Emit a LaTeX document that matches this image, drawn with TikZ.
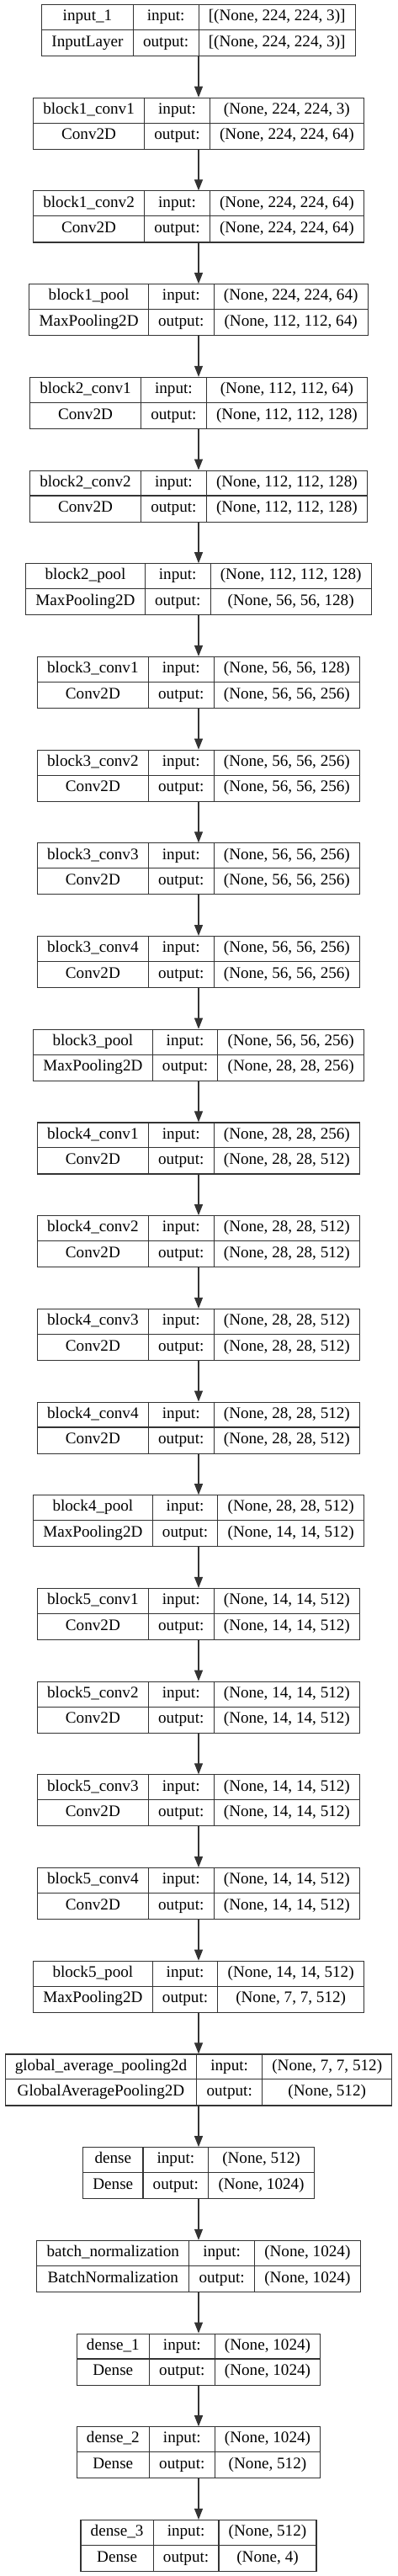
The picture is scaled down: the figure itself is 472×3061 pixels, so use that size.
\documentclass[tikz,border=0pt]{standalone}
\usepackage{fontspec}
\setmainfont{Liberation Serif}
\usetikzlibrary{arrows.meta}
\newlength\colA
\newlength\colB
\newlength\colC
\newlength\tmpw
\newlength\tmpg
\newcommand\kfont{\fontsize{19.15pt}{23pt}\selectfont}
\newcommand\kmeasure[2]{\pgfinterruptpicture\settowidth\tmpw{\kfont #2}\global\tmpg=\tmpw\endpgfinterruptpicture #1=\tmpg}
\tikzset{
  boxline/.style={draw=black!80, line width=1.1pt},
  layerbox/.style={boxline, rectangle, inner sep=0pt, anchor=north, minimum height=61pt},
  celltext/.style={inner sep=0pt, anchor=center, text height=13.2pt, text depth=4.3pt, text=black},
  flow/.style={draw=black!80, line width=1.1pt, -{Triangle[length=13pt,width=10pt]}}
}
\newcommand\klayer[6]{%
  \kmeasure\colA{#3}\kmeasure\tmpw{#4}\ifdim\tmpw>\colA\colA=\tmpw\fi
  \kmeasure\colB{output:}%
  \kmeasure\colC{#5}\kmeasure\tmpw{#6}\ifdim\tmpw>\colC\colC=\tmpw\fi
  \pgfmathsetmacro\wA{\colA+23.5}%
  \pgfmathsetmacro\wB{\colB+23.5}%
  \pgfmathsetmacro\wC{\colC+23.5}%
  \pgfmathsetmacro\T{5+#2*110.7}%
  \pgfmathsetmacro\W{\wA+\wB+\wC}%
  \pgfmathsetmacro\L{236-\W/2}%
  \node[layerbox, minimum width=\W pt] (#1) at (236,\T) {};
  \draw[boxline] (\L,\T+30.5) -- (\L+\W,\T+30.5);
  \draw[boxline] (\L+\wA,\T) -- (\L+\wA,\T+61);
  \draw[boxline] (\L+\wA+\wB,\T) -- (\L+\wA+\wB,\T+61);
  \node[celltext] (#1-n) at (\L+\wA/2,\T+15.25) {#3};
  \node[celltext] (#1-t) at (\L+\wA/2,\T+45.75) {#4};
  \node[celltext] (#1-il) at (\L+\wA+\wB/2,\T+15.25) {input:};
  \node[celltext] (#1-ol) at (\L+\wA+\wB/2,\T+45.75) {output:};
  \node[celltext] (#1-i) at (\L+\wA+\wB+\wC/2,\T+15.25) {#5};
  \node[celltext] (#1-o) at (\L+\wA+\wB+\wC/2,\T+45.75) {#6};
}
\begin{document}
\begin{tikzpicture}[x=1pt,y=-1pt,font=\kfont]
\useasboundingbox (0,0) rectangle (472,3061);
\fill[white] (0,0) rectangle (472,3061);
\klayer{L0}{0}{input\_1}{InputLayer}{[(None, 224, 224, 3)]}{[(None, 224, 224, 3)]}
\klayer{L1}{1}{block1\_conv1}{Conv2D}{(None, 224, 224, 3)}{(None, 224, 224, 64)}
\klayer{L2}{2}{block1\_conv2}{Conv2D}{(None, 224, 224, 64)}{(None, 224, 224, 64)}
\klayer{L3}{3}{block1\_pool}{MaxPooling2D}{(None, 224, 224, 64)}{(None, 112, 112, 64)}
\klayer{L4}{4}{block2\_conv1}{Conv2D}{(None, 112, 112, 64)}{(None, 112, 112, 128)}
\klayer{L5}{5}{block2\_conv2}{Conv2D}{(None, 112, 112, 128)}{(None, 112, 112, 128)}
\klayer{L6}{6}{block2\_pool}{MaxPooling2D}{(None, 112, 112, 128)}{(None, 56, 56, 128)}
\klayer{L7}{7}{block3\_conv1}{Conv2D}{(None, 56, 56, 128)}{(None, 56, 56, 256)}
\klayer{L8}{8}{block3\_conv2}{Conv2D}{(None, 56, 56, 256)}{(None, 56, 56, 256)}
\klayer{L9}{9}{block3\_conv3}{Conv2D}{(None, 56, 56, 256)}{(None, 56, 56, 256)}
\klayer{L10}{10}{block3\_conv4}{Conv2D}{(None, 56, 56, 256)}{(None, 56, 56, 256)}
\klayer{L11}{11}{block3\_pool}{MaxPooling2D}{(None, 56, 56, 256)}{(None, 28, 28, 256)}
\klayer{L12}{12}{block4\_conv1}{Conv2D}{(None, 28, 28, 256)}{(None, 28, 28, 512)}
\klayer{L13}{13}{block4\_conv2}{Conv2D}{(None, 28, 28, 512)}{(None, 28, 28, 512)}
\klayer{L14}{14}{block4\_conv3}{Conv2D}{(None, 28, 28, 512)}{(None, 28, 28, 512)}
\klayer{L15}{15}{block4\_conv4}{Conv2D}{(None, 28, 28, 512)}{(None, 28, 28, 512)}
\klayer{L16}{16}{block4\_pool}{MaxPooling2D}{(None, 28, 28, 512)}{(None, 14, 14, 512)}
\klayer{L17}{17}{block5\_conv1}{Conv2D}{(None, 14, 14, 512)}{(None, 14, 14, 512)}
\klayer{L18}{18}{block5\_conv2}{Conv2D}{(None, 14, 14, 512)}{(None, 14, 14, 512)}
\klayer{L19}{19}{block5\_conv3}{Conv2D}{(None, 14, 14, 512)}{(None, 14, 14, 512)}
\klayer{L20}{20}{block5\_conv4}{Conv2D}{(None, 14, 14, 512)}{(None, 14, 14, 512)}
\klayer{L21}{21}{block5\_pool}{MaxPooling2D}{(None, 14, 14, 512)}{(None, 7, 7, 512)}
\klayer{L22}{22}{global\_average\_pooling2d}{GlobalAveragePooling2D}{(None, 7, 7, 512)}{(None, 512)}
\klayer{L23}{23}{dense}{Dense}{(None, 512)}{(None, 1024)}
\klayer{L24}{24}{batch\_normalization}{BatchNormalization}{(None, 1024)}{(None, 1024)}
\klayer{L25}{25}{dense\_1}{Dense}{(None, 1024)}{(None, 1024)}
\klayer{L26}{26}{dense\_2}{Dense}{(None, 1024)}{(None, 512)}
\klayer{L27}{27}{dense\_3}{Dense}{(None, 512)}{(None, 4)}
\foreach \a [evaluate=\a as \b using int(\a+1)] in {0,...,26} {
  \draw[flow] (L\a.south) -- (L\b.north);
}
\end{tikzpicture}
\end{document}
